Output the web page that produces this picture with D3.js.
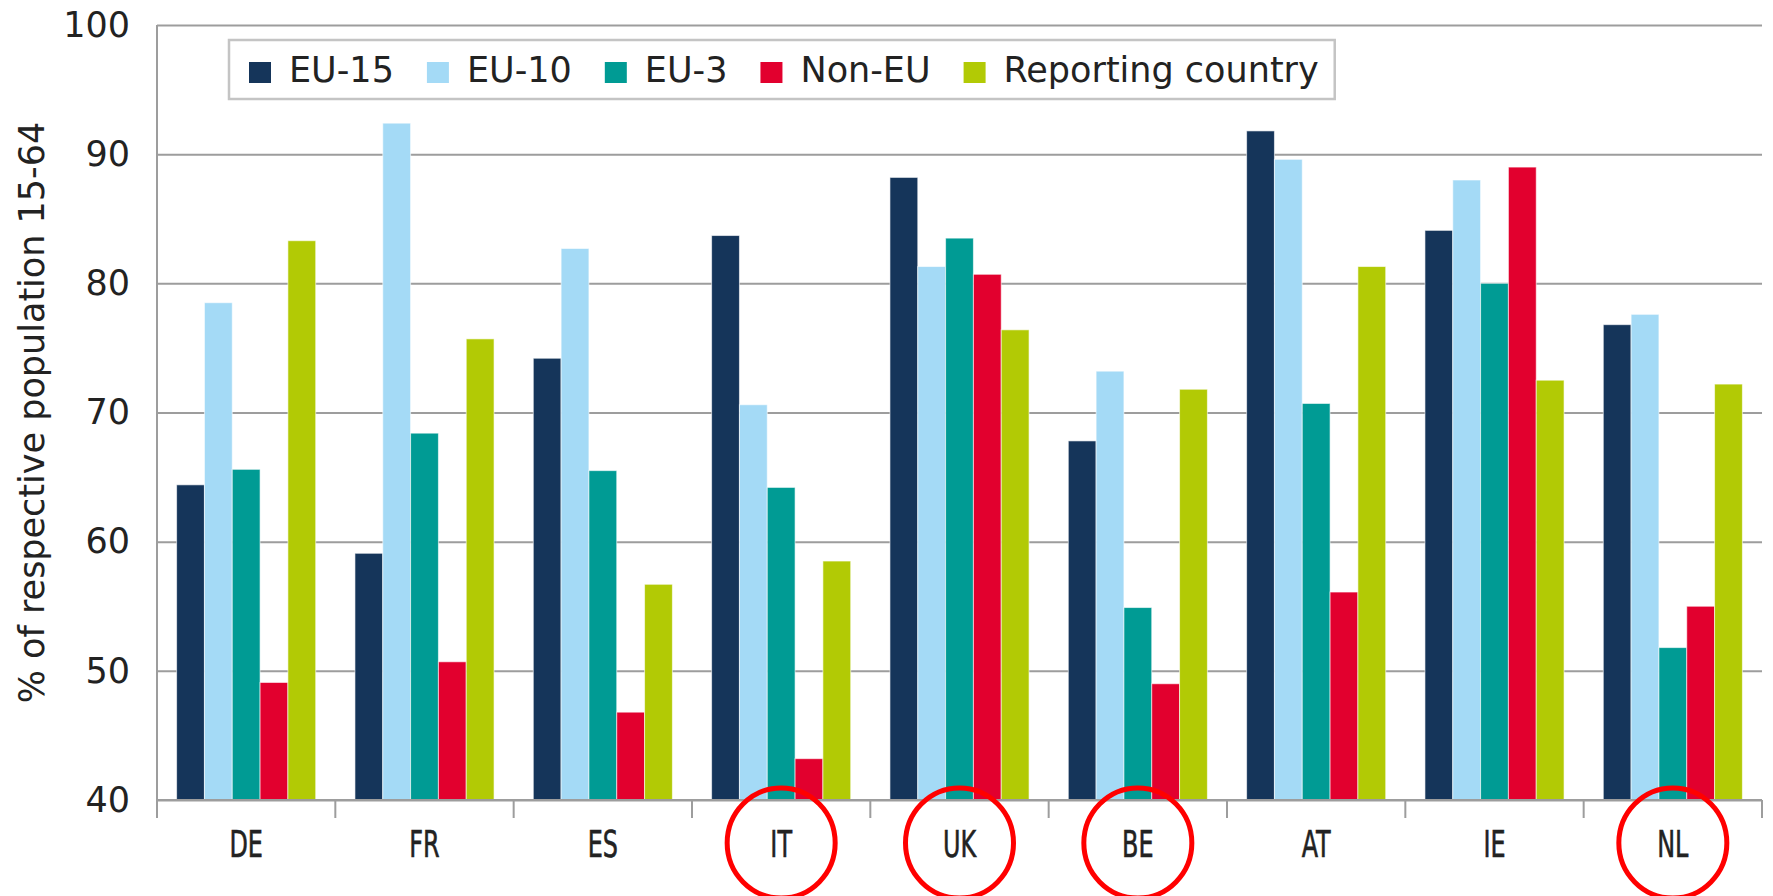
<!DOCTYPE html>
<html>
<head>
<meta charset="utf-8">
<script src="https://cdn.jsdelivr.net/npm/d3@7"></script>
<style>
  body { margin: 0; background: #fff; }
  svg { display: block; }
  text { fill: #222; }
</style>
</head>
<body>
<svg id="chart" width="1773" height="896"></svg>
<script>
(function (d3) {
  'use strict';

  // data
  const categories = ['DE', 'FR', 'ES', 'IT', 'UK', 'BE', 'AT', 'IE', 'NL'];
  const seriesNames = ['EU-15', 'EU-10', 'EU-3', 'Non-EU', 'Reporting country'];
  const eu15      = [64.4, 59.1, 74.2, 83.7, 88.2, 67.8, 91.8, 84.1, 76.8];
  const eu10      = [78.5, 92.4, 82.7, 70.6, 81.3, 73.2, 89.6, 88.0, 77.6];
  const eu3       = [65.6, 68.4, 65.5, 64.2, 83.5, 54.9, 70.7, 80.0, 51.8];
  const nonEu     = [49.1, 50.7, 46.8, 43.2, 80.7, 49.0, 56.1, 89.0, 55.0];
  const reporting = [83.3, 75.7, 56.7, 58.5, 76.4, 71.8, 81.3, 72.5, 72.2];
  const yTicks = [40, 50, 60, 70, 80, 90, 100];
  const circled = ['IT', 'UK', 'BE', 'NL'];

  const colors = ['#15355a', '#a4daf6', '#009b94', '#e2002e', '#b2ca05'];
  const seriesValues = [eu15, eu10, eu3, nonEu, reporting];

  const data = categories.map((c, i) => ({
    cat: c,
    values: seriesNames.map((s, j) => ({ series: s, value: seriesValues[j][i] }))
  }));

  const svg = d3.select('svg#chart');
  const width = +svg.attr('width');
  const height = +svg.attr('height');
  const margin = { top: 25, right: 11, bottom: 96, left: 157 };
  const innerWidth = width - margin.left - margin.right;
  const innerHeight = height - margin.top - margin.bottom;

  const font = '"DejaVu Sans", Verdana, sans-serif';

  const g = svg.append('g')
    .attr('transform', `translate(${margin.left},${margin.top})`);

  const xScale = d3.scaleBand()
    .domain(categories)
    .range([0, innerWidth])
    .paddingInner(0.22)
    .paddingOuter(0.11);

  const xSeries = d3.scaleBand()
    .domain(seriesNames)
    .range([0, xScale.bandwidth()]);

  const yScale = d3.scaleLinear()
    .domain([40, 100])
    .range([innerHeight, 0]);

  const colorScale = d3.scaleOrdinal()
    .domain(seriesNames)
    .range(colors);

  // y axis + gridlines
  const yAxis = d3.axisLeft(yScale)
    .tickValues(yTicks)
    .tickSize(-innerWidth)
    .tickPadding(27);

  const yAxisG = g.append('g').call(yAxis);
  yAxisG.select('.domain').remove();
  yAxisG.selectAll('line')
    .attr('stroke', '#9d9d9d')
    .attr('stroke-width', 2);
  yAxisG.selectAll('text')
    .attr('font-family', font)
    .attr('font-size', 35)
    .attr('fill', '#222');

  // y axis title
  g.append('text')
    .attr('transform', `translate(${44 - margin.left},${innerHeight / 2}) rotate(-90)`)
    .attr('text-anchor', 'middle')
    .attr('font-family', font)
    .attr('font-size', 35)
    .text('% of respective population 15-64');

  // bars
  const groups = g.selectAll('.group').data(data)
    .enter().append('g')
      .attr('class', 'group')
      .attr('transform', d => `translate(${xScale(d.cat)},0)`);

  groups.selectAll('rect').data(d => d.values)
    .enter().append('rect')
      .attr('x', d => xSeries(d.series))
      .attr('y', d => yScale(d.value))
      .attr('width', xSeries.bandwidth())
      .attr('height', d => innerHeight - yScale(d.value))
      .attr('fill', d => colorScale(d.series))
      .attr('stroke', '#ffffff')
      .attr('stroke-opacity', 0.6)
      .attr('stroke-width', 1);

  // x axis: line, boundary ticks, labels
  const step = xScale.step();
  const boundaries = d3.range(categories.length + 1).map(i => i * step);

  g.append('line')
    .attr('x1', 0).attr('x2', innerWidth)
    .attr('y1', innerHeight).attr('y2', innerHeight)
    .attr('stroke', '#9d9d9d')
    .attr('stroke-width', 2);

  g.append('line')
    .attr('x1', 0).attr('x2', 0)
    .attr('y1', 0).attr('y2', innerHeight + 18)
    .attr('stroke', '#9d9d9d')
    .attr('stroke-width', 2);

  g.selectAll('.xtick').data(boundaries)
    .enter().append('line')
      .attr('class', 'xtick')
      .attr('x1', d => d).attr('x2', d => d)
      .attr('y1', innerHeight).attr('y2', innerHeight + 18)
      .attr('stroke', '#9d9d9d')
      .attr('stroke-width', 2);

  const xAxis = d3.axisBottom(xScale).tickSize(0).tickPadding(0);
  const xAxisG = g.append('g')
    .attr('transform', `translate(0,${innerHeight})`)
    .call(xAxis);
  xAxisG.select('.domain').remove();
  xAxisG.selectAll('text')
    .attr('font-family', '"DejaVu Sans Condensed", "DejaVu Sans", sans-serif')
    .attr('font-size', 38)
    .attr('font-weight', 500)
    .attr('stroke', '#222')
    .attr('stroke-width', 0.6)
    .attr('fill', '#222')
    .attr('dy', null)
    .attr('y', 57)
    .attr('transform', 'scale(0.7,1)');

  // red circles round some labels
  g.selectAll('.mark').data(circled)
    .enter().append('ellipse')
      .attr('class', 'mark')
      .attr('cx', d => xScale(d) + xScale.bandwidth() / 2)
      .attr('cy', innerHeight + 43)
      .attr('rx', 54)
      .attr('ry', 55)
      .attr('fill', 'none')
      .attr('stroke', '#ff0000')
      .attr('stroke-width', 5);

  // legend
  const legend = svg.append('g')
    .attr('transform', 'translate(229,40)');

  const legendBox = legend.append('rect')
    .attr('height', 59)
    .attr('fill', '#fff')
    .attr('stroke', '#c4c4c4')
    .attr('stroke-width', 2.5);

  let cursor = 20;
  seriesNames.forEach((s, i) => {
    const item = legend.append('g')
      .attr('transform', `translate(${cursor},0)`);
    item.append('rect')
      .attr('y', 22)
      .attr('width', 22)
      .attr('height', 21)
      .attr('fill', colorScale(s));
    const t = item.append('text')
      .attr('x', 40)
      .attr('y', 42)
      .attr('font-family', font)
      .attr('font-size', 35)
      .text(s);
    const w = t.node().getComputedTextLength();
    cursor += 40 + w + (i < seriesNames.length - 1 ? 33 : 16);
  });
  legendBox.attr('width', cursor);

}(d3));
</script>
</body>
</html>
